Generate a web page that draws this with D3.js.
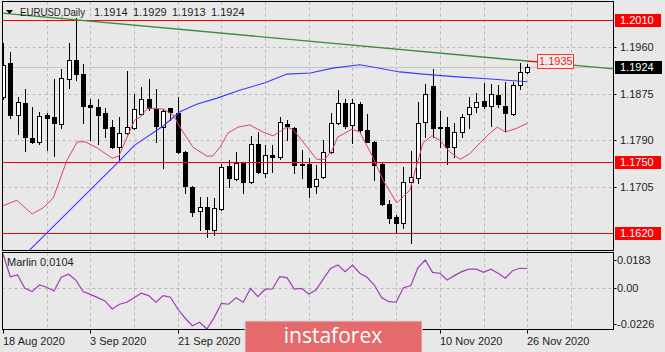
<!DOCTYPE html>
<html>
<head>
<meta charset="utf-8">
<script src="https://cdn.jsdelivr.net/npm/d3@7"></script>
<style>
  body { margin: 0; background: #e8e8e8; }
  svg { display: block; font-family: "Liberation Sans", Arial, sans-serif; }
</style>
</head>
<body>
<svg id="chart"></svg>
<script>
// EURUSD daily, 18 Aug 2020 .. 26 Nov 2020 (bar index 0..72)
const opens  = [1.1869,1.1931,1.1836,1.1858,1.1794,1.1787,1.1836,1.1833,1.1820,1.1902,1.1937,1.1911,1.1854,1.1851,1.1840,1.1814,1.1777,1.1803,1.1812,1.1838,1.1865,1.1847,1.1814,1.1849,1.1840,1.1768,1.1704,1.1660,1.1668,1.1625,1.1664,1.1743,1.1719,1.1748,1.1713,1.1783,1.1730,1.1763,1.1759,1.1820,1.1812,1.1746,1.1746,1.1706,1.1723,1.1768,1.1821,1.1858,1.1818,1.1856,1.1809,1.1787,1.1746,1.1673,1.1649,1.1638,1.1713,1.1721,1.1823,1.1889,1.1814,1.1814,1.1777,1.1805,1.1838,1.1851,1.1862,1.1853,1.1873,1.1853,1.1838,1.1891,1.1914];
const highs  = [1.1968,1.1951,1.1869,1.1884,1.1851,1.1842,1.1840,1.1902,1.1920,1.1968,1.2014,1.1929,1.1865,1.1865,1.1849,1.1827,1.1832,1.1917,1.1875,1.1887,1.1902,1.1884,1.1847,1.1849,1.1869,1.1770,1.1706,1.1686,1.1686,1.1684,1.1746,1.1754,1.1768,1.1750,1.1798,1.1805,1.1781,1.1781,1.1832,1.1827,1.1814,1.1772,1.1757,1.1745,1.1790,1.1840,1.1882,1.1865,1.1865,1.1860,1.1838,1.1789,1.1748,1.1680,1.1653,1.1741,1.1770,1.1860,1.1893,1.1920,1.1843,1.1832,1.1821,1.1838,1.1869,1.1876,1.1895,1.1893,1.1891,1.1897,1.1897,1.1931,1.1929];
const lows   = [1.1865,1.1831,1.1801,1.1770,1.1785,1.1783,1.1772,1.1761,1.1812,1.1886,1.1900,1.1822,1.1790,1.1783,1.1796,1.1776,1.1754,1.1801,1.1810,1.1836,1.1845,1.1787,1.1739,1.1827,1.1766,1.1693,1.1651,1.1625,1.1613,1.1616,1.1662,1.1704,1.1717,1.1693,1.1711,1.1730,1.1723,1.1732,1.1755,1.1790,1.1730,1.1721,1.1686,1.1693,1.1721,1.1766,1.1819,1.1812,1.1785,1.1805,1.1786,1.1717,1.1671,1.1638,1.1620,1.1629,1.1602,1.1712,1.1796,1.1796,1.1777,1.1746,1.1759,1.1796,1.1812,1.1842,1.1849,1.1816,1.1851,1.1807,1.1836,1.1884,1.1913];
const closes = [1.1928,1.1836,1.1860,1.1796,1.1787,1.1834,1.1831,1.1822,1.1904,1.1937,1.1911,1.1853,1.1851,1.1836,1.1812,1.1777,1.1803,1.1814,1.1847,1.1865,1.1849,1.1816,1.1843,1.1842,1.1768,1.1706,1.1658,1.1668,1.1627,1.1666,1.1741,1.1721,1.1748,1.1713,1.1783,1.1732,1.1763,1.1759,1.1823,1.1816,1.1745,1.1744,1.1704,1.1719,1.1768,1.1821,1.1858,1.1816,1.1858,1.1809,1.1787,1.1745,1.1673,1.1647,1.1638,1.1713,1.1722,1.1821,1.1875,1.1812,1.1812,1.1777,1.1805,1.1832,1.1851,1.1860,1.1853,1.1875,1.1856,1.1840,1.1891,1.1915,1.1924];

// slow moving average (blue) read at bar positions
const maBlueBar = [2, 6, 16, 18, 22, 24.3, 26.6, 29.4, 32.6, 36, 39, 42.2, 45.3, 49, 50.8, 54.5, 57.7, 62.4, 67, 72];
const maBlueVal = [1.1567,1.1620,1.1752,1.1780,1.1816,1.1842,1.1856,1.1867,1.1882,1.1895,1.1911,1.1913,1.1922,1.1928,1.1924,1.1915,1.1911,1.1906,1.1902,1.1897];

// fast moving average (red)
const maRedBar = [-0.4,1.9,4,5.5,6.9,8.8,10.2,11.3,12.9,15,15.9,18.1,18.8,19.9,22,23.4,24.3,26.1,28,28.8,29.8,30.9,32.3,33.9,35.7,37.1,39,39.8,41.8,43.1,44.2,45.2,46,47.9,49,50.8,52.2,54.1,55.9,56.9,57.7,58.9,60,61.4,62.8,64.1,65.5,66.9,67.9,69,70.6,72];
const maRedVal = [1.1668,1.1680,1.1655,1.1666,1.1684,1.1754,1.1787,1.1787,1.1776,1.1757,1.1761,1.1827,1.1832,1.1849,1.1847,1.1836,1.1814,1.1777,1.1761,1.1761,1.1777,1.1803,1.1814,1.1818,1.1805,1.1798,1.1814,1.1810,1.1777,1.1755,1.1755,1.1772,1.1796,1.1810,1.1805,1.1759,1.1717,1.1675,1.1699,1.1748,1.1785,1.1798,1.1790,1.1768,1.1755,1.1765,1.1785,1.1803,1.1814,1.1805,1.1812,1.1821];

// Marlin oscillator, one value per bar
const marlin = [0.0183,0.0059,0.0069,-0.0004,-0.0022,0.0014,0.0002,-0.0019,0.0056,0.0073,0.0041,-0.0022,-0.0037,-0.0055,-0.0073,-0.0117,-0.0091,-0.0080,-0.0056,-0.0031,-0.0044,-0.0080,-0.0044,-0.0053,-0.0117,-0.0166,-0.0208,-0.0189,-0.0226,-0.0164,-0.0086,-0.0091,-0.0055,-0.0080,-0.0004,-0.0050,-0.0009,-0.0008,0.0059,0.0054,-0.0008,-0.0004,-0.0035,-0.0013,0.0047,0.0104,0.0123,0.0087,0.0123,0.0078,0.0056,0.0014,-0.0055,-0.0077,-0.0080,-0.0001,0.0010,0.0109,0.0150,0.0083,0.0078,0.0041,0.0065,0.0087,0.0100,0.0100,0.0083,0.0100,0.0078,0.0051,0.0092,0.0105,0.0104];

// trend line (two anchors), horizontal levels, ticks
const trendBars = [0, 72];
const trendVals = [1.20225, 1.1935];
const levels = [1.2010, 1.1750, 1.1620];
const priceTicks = [1.1960, 1.1875, 1.1790, 1.1705, 1.1620];
const marlinTicks = [0.0183, 0.00, -0.0226];
const marlinTickText = ['0.0183', '0.00', '-0.0226'];
// date labels left visible (7 Oct / 23 Oct sit under the watermark)
const labelBars = [0, 12, 24, 60, 72];
const labelTexts = ['18 Aug 2020', '3 Sep 2020', '21 Sep 2020', '10 Nov 2020', '26 Nov 2020'];
const lastPrice = 1.1924;

class CandleChart {
    constructor(config) {
        this.config = {
            parent: config.parent,
            width: config.width || 665,
            height: config.height || 352
        };
        this.init();
    }

    init() {
        let self = this;
        self.svg = d3.select(self.config.parent)
            .attr('width', self.config.width)
            .attr('height', self.config.height);

        self.left = 2.5; self.right = 613.5;
        self.mainTop = 1.5; self.mainBottom = 250.5;
        self.subTop = 252.5; self.subBottom = 329.5;

        self.xscale = d3.scaleLinear().domain([0, 72]).range([3, 527.2]);
        self.yscale = d3.scaleLinear().domain([1.1589, 1.2043]).range([250, 2]);
        self.mscale = d3.scaleLinear().domain([-0.0226, 0.0183]).range([329, 254]);

        self.svg.append('rect').attr('width', self.config.width).attr('height', self.config.height).attr('fill', '#e8e8e8');

        const defs = self.svg.append('defs');
        defs.append('clipPath').attr('id', 'clipMain').append('rect')
            .attr('x', self.left).attr('y', self.mainTop)
            .attr('width', self.right - self.left).attr('height', self.mainBottom - self.mainTop);
        defs.append('clipPath').attr('id', 'clipSub').append('rect')
            .attr('x', self.left).attr('y', self.subTop)
            .attr('width', self.right - self.left).attr('height', self.subBottom - self.subTop);

        self.main = self.svg.append('g').attr('clip-path', 'url(#clipMain)');
        self.sub = self.svg.append('g').attr('clip-path', 'url(#clipSub)');
    }

    render() {
        let self = this;
        const px = v => Math.round(v) + 0.5;
        const gridColor = '#b9b9b9';

        // vertical grid every 6 bars
        const vgrid = d3.range(6, 84, 6);
        [[self.main, self.mainTop, self.mainBottom], [self.sub, self.subTop, self.subBottom]].forEach(([g, t, b]) => {
            g.selectAll('.vgrid').data(vgrid).join('line')
                .attr('class', 'vgrid')
                .attr('x1', d => px(self.xscale(d))).attr('x2', d => px(self.xscale(d)))
                .attr('y1', t).attr('y2', b)
                .attr('stroke', gridColor).attr('stroke-dasharray', '3,3');
        });
        self.main.selectAll('.hgrid').data(priceTicks).join('line')
            .attr('class', 'hgrid')
            .attr('x1', self.left).attr('x2', self.right)
            .attr('y1', d => px(self.yscale(d))).attr('y2', d => px(self.yscale(d)))
            .attr('stroke', gridColor).attr('stroke-dasharray', '3,3');
        self.sub.append('line')
            .attr('x1', self.left).attr('x2', self.right)
            .attr('y1', px(self.mscale(0))).attr('y2', px(self.mscale(0)))
            .attr('stroke', gridColor).attr('stroke-dasharray', '3,3');

        // bid line
        self.main.append('line')
            .attr('x1', self.left).attr('x2', self.right)
            .attr('y1', px(self.yscale(lastPrice))).attr('y2', px(self.yscale(lastPrice)))
            .attr('stroke', '#c6c6c6');

        // candles
        const bars = d3.range(opens.length);
        const candles = self.main.append('g').attr('shape-rendering', 'crispEdges');
        candles.selectAll('.wick').data(bars).join('line')
            .attr('class', 'wick')
            .attr('x1', i => px(self.xscale(i))).attr('x2', i => px(self.xscale(i)))
            .attr('y1', i => Math.round(self.yscale(highs[i])))
            .attr('y2', i => Math.round(self.yscale(lows[i])) + 1)
            .attr('stroke', '#000');
        candles.selectAll('.body').data(bars).join('rect')
            .attr('class', 'body')
            .attr('x', i => Math.round(self.xscale(i)) - 2 + 0.5)
            .attr('y', i => px(self.yscale(Math.max(opens[i], closes[i]))))
            .attr('width', 4)
            .attr('height', i => Math.max(1, Math.round(Math.abs(self.yscale(opens[i]) - self.yscale(closes[i])))))
            .attr('fill', i => closes[i] >= opens[i] ? '#fff' : '#000')
            .attr('stroke', '#000');

        // horizontal levels
        self.main.selectAll('.level').data(levels).join('line')
            .attr('class', 'level')
            .attr('x1', self.left).attr('x2', self.right)
            .attr('y1', d => px(self.yscale(d))).attr('y2', d => px(self.yscale(d)))
            .attr('stroke', '#ff0000');

        // moving averages
        const maLine = d3.line().x(d => self.xscale(d[0])).y(d => self.yscale(d[1]));
        self.main.append('path')
            .datum(maBlueBar.map((b, k) => [b, maBlueVal[k]]))
            .attr('d', maLine).attr('fill', 'none').attr('stroke', '#3b3bff').attr('stroke-width', 1.1);
        self.main.append('path')
            .datum(maRedBar.map((b, k) => [b, maRedVal[k]]))
            .attr('d', maLine).attr('fill', 'none').attr('stroke', '#e3405e').attr('stroke-width', 1);

        // trend line extended as a ray both ways
        const slope = (trendVals[1] - trendVals[0]) / (trendBars[1] - trendBars[0]);
        const tval = b => trendVals[0] + slope * (b - trendBars[0]);
        self.main.append('line')
            .attr('x1', self.xscale(-2)).attr('y1', self.yscale(tval(-2)))
            .attr('x2', self.xscale(86)).attr('y2', self.yscale(tval(86)))
            .attr('stroke', '#3b8c3b').attr('stroke-width', 1.4);

        // marlin
        self.sub.append('path')
            .datum(marlin)
            .attr('d', d3.line().x((d, i) => self.xscale(i)).y(d => self.mscale(d)))
            .attr('fill', 'none').attr('stroke', '#a23cb8').attr('stroke-width', 1.2);

        // frames
        [[self.mainTop, self.mainBottom], [self.subTop, self.subBottom]].forEach(([t, b]) => {
            self.svg.append('rect')
                .attr('x', self.left).attr('y', t)
                .attr('width', self.right - self.left).attr('height', b - t)
                .attr('fill', 'none').attr('stroke', '#000');
        });

        self.axes();
    }

    axes() {
        let self = this;
        const px = v => Math.round(v) + 0.5;
        const font = 11;
        const txt = '#1e1e1e';

        // title
        self.svg.append('path').attr('d', 'M6,10 L13,10 L9.5,14 Z').attr('fill', '#000');
        self.svg.append('text').attr('x', 20).attr('y', 16).attr('font-size', font).attr('fill', txt)
            .attr('textLength', 65).attr('lengthAdjust', 'spacingAndGlyphs').text('EURUSD,Daily');
        [opens[72], highs[72], lows[72], closes[72]].forEach((v, k) => {
            self.svg.append('text').attr('x', 94 + k * 39).attr('y', 16)
                .attr('font-size', font).attr('fill', txt).text(v.toFixed(4));
        });

        // price axis
        const ticks = priceTicks.filter(d => !levels.includes(d));
        self.svg.selectAll('.ptick').data(ticks).join('line')
            .attr('class', 'ptick')
            .attr('x1', self.right).attr('x2', self.right + 3)
            .attr('y1', d => px(self.yscale(d))).attr('y2', d => px(self.yscale(d)))
            .attr('stroke', '#000');
        self.svg.selectAll('.plabel').data(ticks).join('text')
            .attr('class', 'plabel')
            .attr('x', 620).attr('y', d => self.yscale(d) + 4)
            .attr('font-size', font).attr('fill', txt)
            .text(d => d.toFixed(4));

        levels.forEach(d => {
            const yy = Math.round(self.yscale(d));
            self.svg.append('rect').attr('x', 615).attr('y', yy - 6).attr('width', 46).attr('height', 13).attr('fill', '#ff0000');
            self.svg.append('text').attr('x', 620).attr('y', yy + 4).attr('font-size', font).attr('fill', '#fff').text(d.toFixed(4));
        });
        const ly = Math.round(self.yscale(lastPrice));
        self.svg.append('rect').attr('x', 615).attr('y', ly - 6).attr('width', 47).attr('height', 13).attr('fill', '#000');
        self.svg.append('text').attr('x', 620).attr('y', ly + 4).attr('font-size', font).attr('fill', '#fff').text(lastPrice.toFixed(4));

        // trend line price tag
        const ty = Math.round(self.yscale(trendVals[1]));
        self.svg.append('line').attr('x1', self.xscale(72)).attr('x2', 537).attr('y1', ty + 0.5).attr('y2', ty + 0.5).attr('stroke', '#ff0000');
        self.svg.append('rect').attr('x', 537.5).attr('y', ty - 6.5).attr('width', 36).attr('height', 14)
            .attr('fill', '#ececec').attr('stroke', '#ff3030');
        self.svg.append('text').attr('x', 539).attr('y', ty + 4).attr('font-size', font).attr('fill', '#ff2020').text(trendVals[1].toFixed(4));

        // marlin axis
        self.svg.append('text').attr('x', 7).attr('y', 266).attr('font-size', font).attr('fill', txt)
            .text('Marlin ' + marlin[marlin.length - 1].toFixed(4));
        const mpos = [260, 288, 324];
        marlinTicks.forEach((d, k) => {
            self.svg.append('line').attr('x1', self.right).attr('x2', self.right + 3)
                .attr('y1', mpos[k] + 0.5).attr('y2', mpos[k] + 0.5).attr('stroke', '#000');
            self.svg.append('text').attr('x', 617).attr('y', mpos[k] + 4)
                .attr('font-size', font).attr('fill', txt).text(marlinTickText[k]);
        });

        // time axis
        labelBars.forEach((b, k) => {
            const xx = px(self.xscale(b));
            self.svg.append('line').attr('x1', xx).attr('x2', xx).attr('y1', self.subBottom).attr('y2', self.subBottom + 4).attr('stroke', '#000');
            self.svg.append('text').attr('x', Math.round(self.xscale(b))).attr('y', 345)
                .attr('font-size', font).attr('fill', txt).text(labelTexts[k]);
        });

        // watermark
        self.svg.append('rect').attr('x', 245).attr('y', 321).attr('width', 177).attr('height', 32)
            .attr('fill', '#e46a6c').attr('stroke', '#d8d8d8');
        self.svg.append('text').attr('x', 333).attr('y', 343).attr('text-anchor', 'middle')
            .attr('font-family', '"Open Sans", sans-serif').attr('font-size', 21).attr('fill', '#fff')
            .text('instaforex');
    }
}

const chart = new CandleChart({ parent: '#chart', width: 665, height: 352 });
chart.render();
</script>
</body>
</html>
